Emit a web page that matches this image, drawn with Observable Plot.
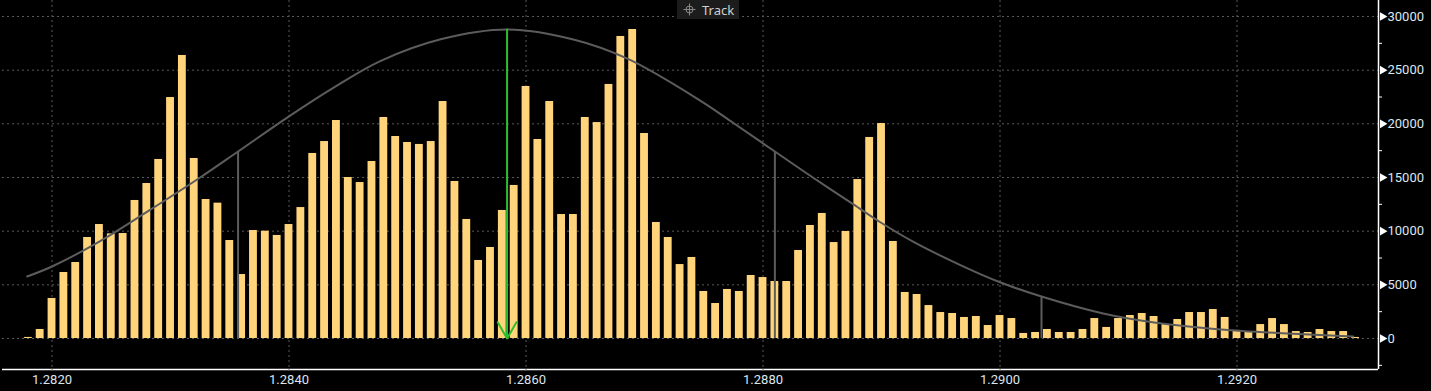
<!DOCTYPE html>
<html><head><meta charset="utf-8">
<script src="https://cdn.jsdelivr.net/npm/d3@7"></script>
<script src="https://cdn.jsdelivr.net/npm/@observablehq/plot@0.6"></script>
<style>
html,body{margin:0;padding:0;background:#000;}
#wrap{position:relative;width:1431px;height:391px;overflow:hidden;background:#000;}
#track{position:absolute;left:677px;top:0;width:62px;height:19px;background:#1c1c1c;color:#cfcfcf;font:13px "Noto Sans",sans-serif;display:flex;align-items:center;}
#track svg{margin-left:6px;margin-right:6px;}
</style></head><body>
<div id="wrap"><div id="chart"></div><div id="track"><svg width="13" height="13" viewBox="0 0 13 13"><circle cx="6.5" cy="6.5" r="3.5" fill="none" stroke="#888" stroke-width="1"/><line x1="6.5" y1="0.5" x2="6.5" y2="12.5" stroke="#888"/><line x1="0.5" y1="6.5" x2="12.5" y2="6.5" stroke="#888"/></svg><span>Track</span></div></div>
<script>
const prices = [
1.2818,1.2819,1.2820,1.2821,1.2822,1.2823,1.2824,1.2825,1.2826,1.2827,
1.2828,1.2829,1.2830,1.2831,1.2832,1.2833,1.2834,1.2835,1.2836,1.2837,
1.2838,1.2839,1.2840,1.2841,1.2842,1.2843,1.2844,1.2845,1.2846,1.2847,
1.2848,1.2849,1.2850,1.2851,1.2852,1.2853,1.2854,1.2855,1.2856,1.2857,
1.2858,1.2859,1.2860,1.2861,1.2862,1.2863,1.2864,1.2865,1.2866,1.2867,
1.2868,1.2869,1.2870,1.2871,1.2872,1.2873,1.2874,1.2875,1.2876,1.2877,
1.2878,1.2879,1.2880,1.2881,1.2882,1.2883,1.2884,1.2885,1.2886,1.2887,
1.2888,1.2889,1.2890,1.2891,1.2892,1.2893,1.2894,1.2895,1.2896,1.2897,
1.2898,1.2899,1.2900,1.2901,1.2902,1.2903,1.2904,1.2905,1.2906,1.2907,
1.2908,1.2909,1.2910,1.2911,1.2912,1.2913,1.2914,1.2915,1.2916,1.2917,
1.2918,1.2919,1.2920,1.2921,1.2922,1.2923,1.2924,1.2925,1.2926,1.2927,
1.2928,1.2929,1.2930];
const volumes = [
100,840,3730,6150,7080,9410,10620,9750,9780,12860,
14440,16680,22450,26370,16770,12950,12610,9130,5960,10060,
10000,9600,10620,12200,17240,18350,20310,15000,14530,16490,
20590,18820,18260,18080,18350,22080,14630,11090,7270,8480,
11930,14260,23480,18540,22080,11550,11550,20590,20120,23670,
28140,28790,19100,10810,9410,6890,7550,4380,3260,4570,
4380,5870,5680,5310,5310,8200,10530,11650,8940,9970,
14810,18730,20030,9040,4290,4100,3070,2420,2330,1960,
2050,1210,2140,1860,470,560,840,560,560,840,
1860,1030,1860,2140,2330,2050,1300,1770,2420,2420,
2700,1960,750,650,1300,1860,1300,650,560,840,
650,650,100];
const curveX = [1.28179,1.28200,1.28241,1.28283,1.28325,1.28357,1.28400,1.28438,1.28477,1.28528,1.28584,1.28640,1.28686,1.28747,1.28775,1.28810,1.28843,1.28876,1.28899,1.28927,1.28967,1.29000,1.29035,1.29087,1.29130,1.29186,1.29243,1.29298];
const curveY = [5780,6710,9100,12000,15000,17420,20700,23400,25850,27880,28790,27860,26050,22170,20080,17420,14930,12520,10830,9000,6820,5240,3910,2330,1490,840,470,190];
const statX = [1.28357,1.28810,1.29035];
const statY = [17420,17420,3910];
const meanX = 1.28584, meanY = 28790;
const xTicks = [1.2820,1.2840,1.2860,1.2880,1.2900,1.2920];
const yTicks = [0,5000,10000,15000,20000,25000,30000];
const yMinor = [-2500,2500,7500,12500,17500,22500,27500];
const xDomain = [1.281582,1.293194];
const yDomain = [-2888,31491];

const bars = prices.map((p,i)=>({p, v: volumes[i]}));
const curve = curveX.map((x,i)=>({x, y: curveY[i]}));
const stats = statX.map((x,i)=>({x, y: statY[i]}));
const half = (prices[1]-prices[0])/2;
const labelFont = "Roboto, 'Noto Sans', sans-serif";

const chart = Plot.plot({
  width: 1431, height: 391,
  marginLeft: 2, marginRight: 53, marginTop: 0, marginBottom: 22,
  style: {background: "#000", color: "#dde6ee", fontFamily: labelFont, fontSize: "13px"},
  x: {domain: xDomain, axis: null},
  y: {domain: yDomain, axis: null},
  marks: [
    Plot.gridY(yTicks, {stroke: "#5a5a5a", strokeOpacity: 1, strokeDasharray: "2,3"}),
    Plot.gridX(xTicks, {stroke: "#5a5a5a", strokeOpacity: 1, strokeDasharray: "2,3"}),
    Plot.rectY(bars, {x1: d => d.p - half, x2: d => d.p + half, y1: 0, y2: "v", fill: "#ffd47a", insetLeft: 2, insetRight: 2}),
    Plot.line(curve, {x: "x", y: "y", stroke: "#5c5c5c", strokeWidth: 2, curve: "catmull-rom"}),
    Plot.ruleX(stats, {x: "x", y1: 0, y2: "y", stroke: "#5c5c5c", strokeWidth: 2}),
    Plot.arrow([{x: meanX, y: meanY}], {x1: "x", x2: "x", y1: "y", y2: () => 0, stroke: "#2dbd2d", strokeWidth: 2, headLength: 14}),
    Plot.ruleY([yDomain[0]], {stroke: "#ffffff", strokeWidth: 1.5}),
    Plot.ruleX([xDomain[1]], {stroke: "#ffffff", strokeWidth: 1.5}),
    Plot.axisX(xTicks, {label: null, tickSize: 4, tickPadding: 1, tickFormat: d3.format(".4f"), stroke: "#666", strokeDasharray: "2,2", fill: "#dde6ee", fontSize: 13, fontFamily: labelFont}),
    Plot.axisY(yMinor, {anchor: "right", label: null, tickSize: 3, tickFormat: () => "", stroke: "#ffffff"}),
    Plot.axisY(yTicks, {anchor: "right", label: null, tickSize: 0, tickPadding: 9, tickFormat: d3.format("d"), fill: "#dde6ee", fontSize: 13, fontFamily: labelFont}),
    Plot.dot(yTicks, {x: () => xDomain[1], y: d => d, symbol: "triangle", rotate: 90, r: 3.2, fill: "#ffffff", dx: 4})
  ]
});
document.getElementById("chart").appendChild(chart);
</script>
</body></html>
